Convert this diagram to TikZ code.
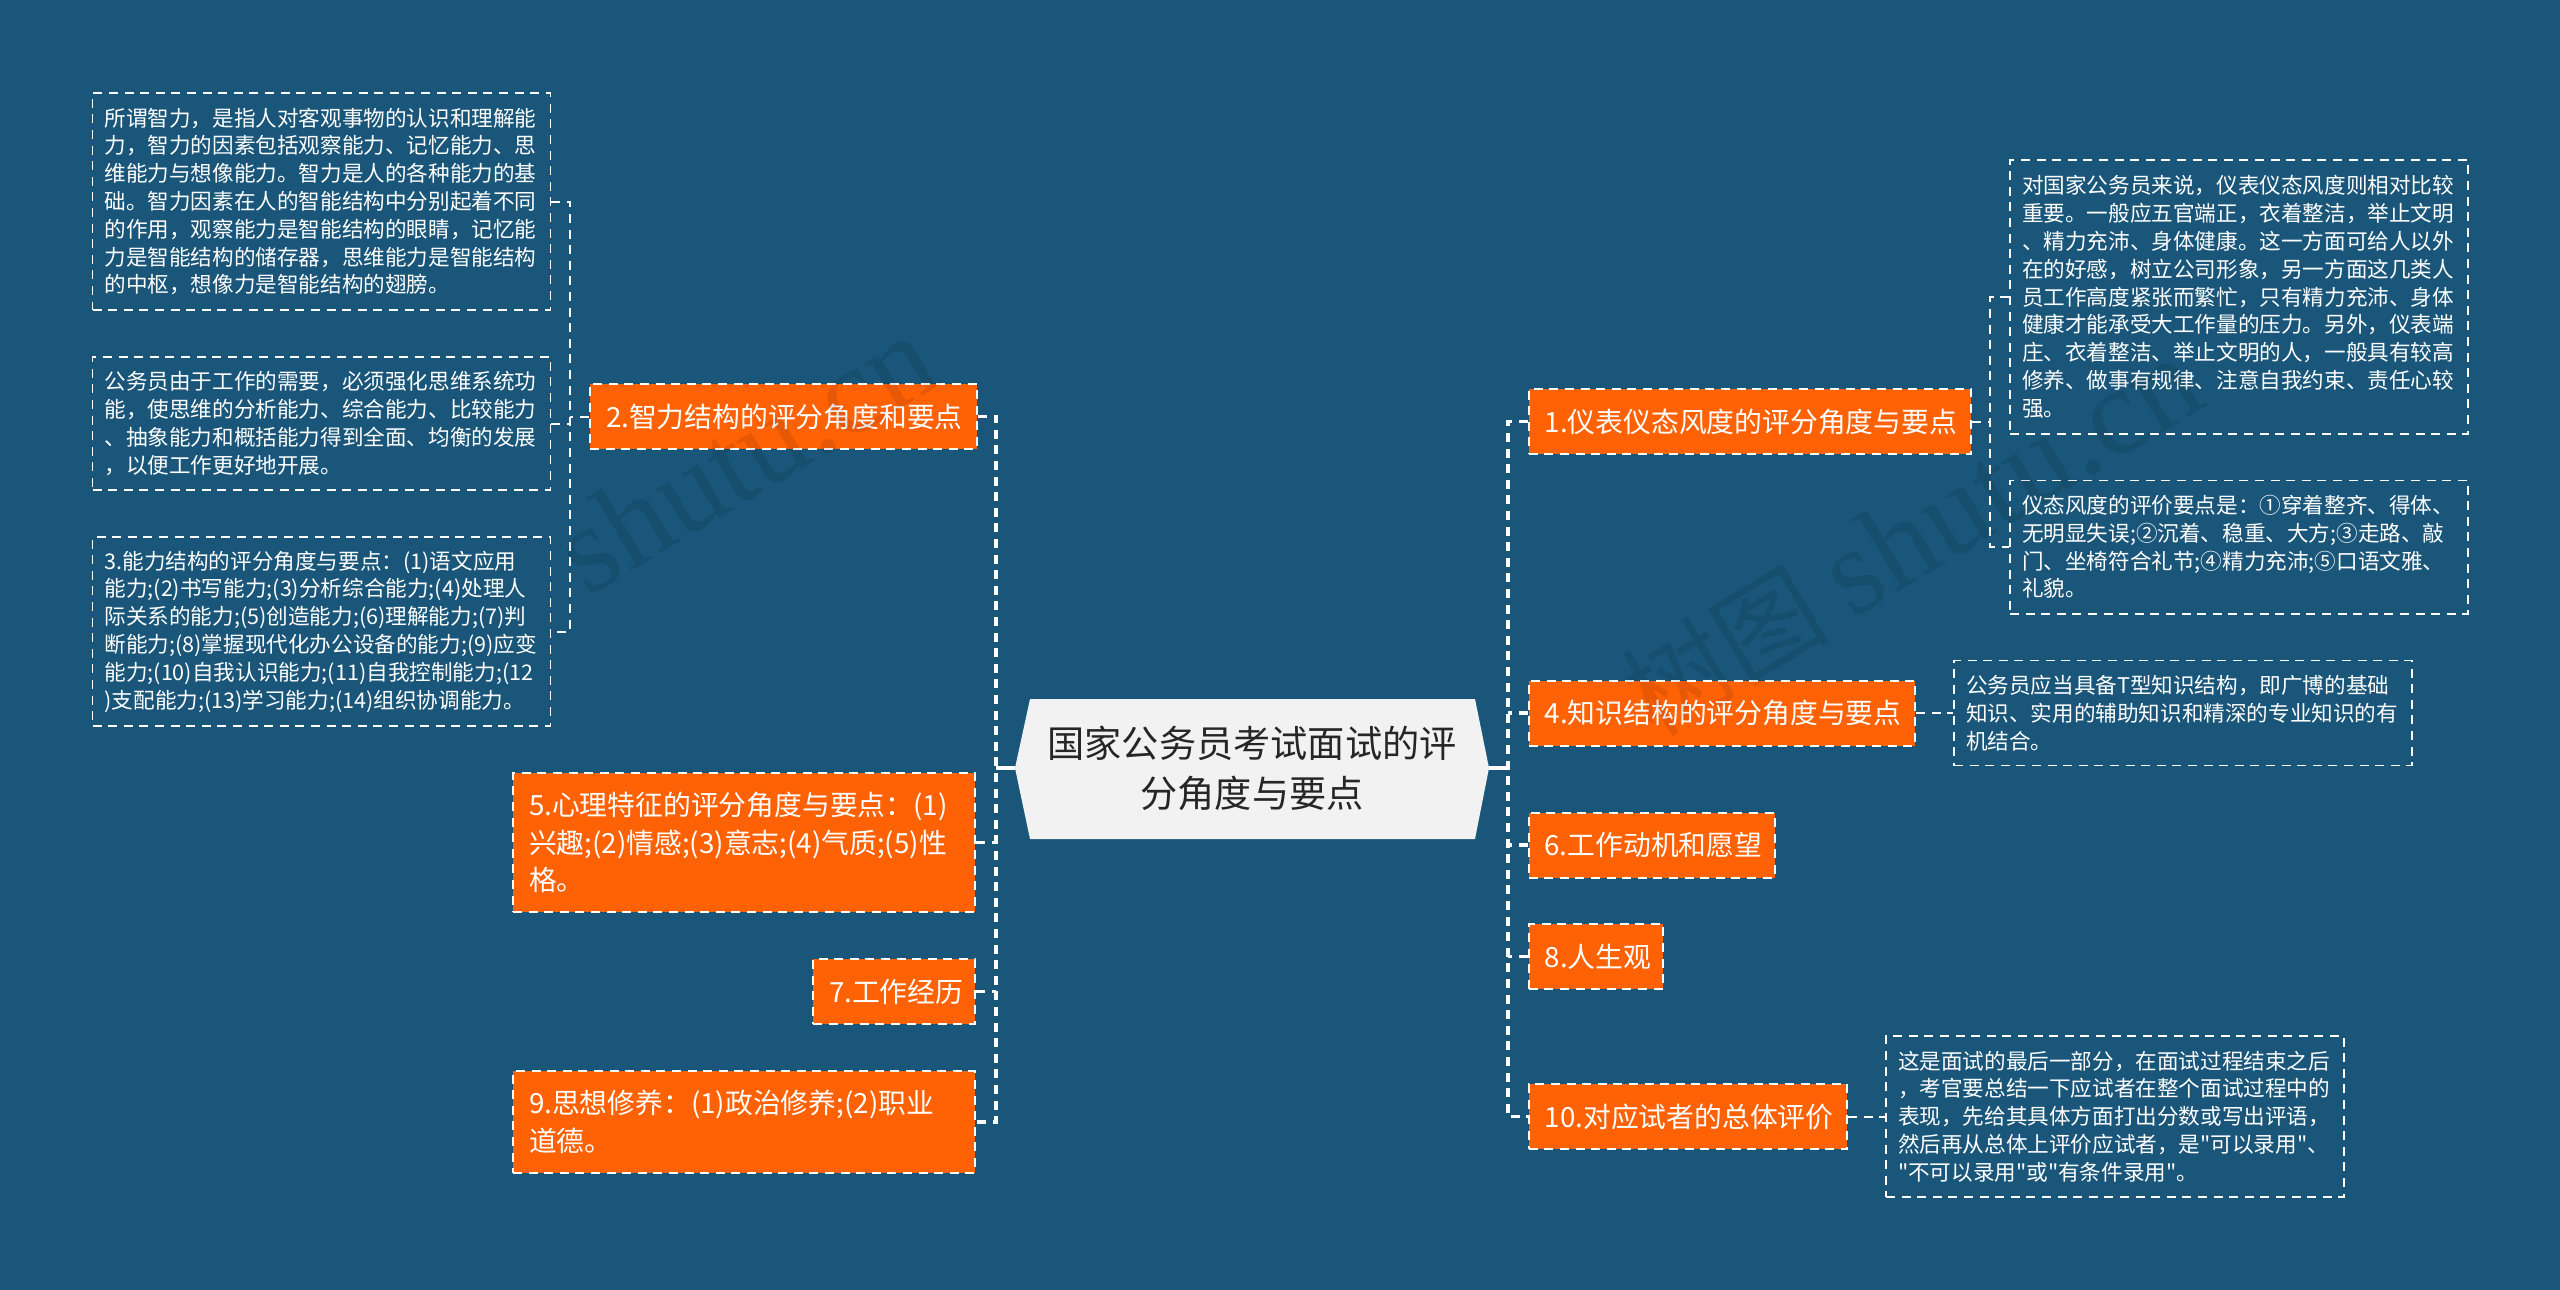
\documentclass[tikz,border=0pt]{standalone}
\usepackage{fontspec}
\newfontfamily\cnfont{Noto Sans CJK SC}
\newfontfamily\markfont{Liberation Serif}
\definecolor{pagebg}{HTML}{19567A}
\definecolor{topicfill}{HTML}{FF6105}
\definecolor{rootfill}{HTML}{F2F2F2}
\tikzset{
    topicbox/.style={draw=white,fill=topicfill,text=white,line width=1pt,dash pattern=on 4.5pt off 3.3pt,inner xsep=8pt,inner ysep=0pt,text width=#1,align=left,font=\cnfont\fontsize{13.9}{18.9}\selectfont},
    notebox/.style={draw=white,text=white,line width=0.75pt,dash pattern=on 4.5pt off 3.3pt,inner xsep=6pt,inner ysep=0pt,text width=217pt,align=left,font=\cnfont\fontsize{10.8}{13.9}\selectfont},
    rootlink/.style={draw=white,line width=1.7pt},
    trunk/.style={draw=white,line width=1.7pt,dash pattern=on 4.5pt off 3.3pt},
    twig/.style={draw=white,line width=1pt,dash pattern=on 4.5pt off 3.3pt},
    stamp/.style={black,opacity=0.09,rotate=31,anchor=west},
}
\begin{document}
\begin{tikzpicture}[x=0.5pt,y=-0.5pt]
    \useasboundingbox[fill=pagebg] (0,0) rectangle (2560,1290);
    % root
    \fill[rootfill] (1030,699) -- (1475,699) -- (1489,768) -- (1475,839) -- (1030,839) -- (1015,768) -- cycle;
    \node[font=\cnfont\fontsize{18.6}{25}\selectfont,text=black!85,align=center] (root) at (1252,768) {国家公务员考试面试的评\\分角度与要点};
    \coordinate (rootl) at (1015,768);
    \coordinate (rootr) at (1489,768);
    \coordinate (forkl) at (996,768);
    \coordinate (forkr) at (1508,768);
    % left topics
    \node[topicbox=177.5pt,minimum height=32.5pt] (t2) at (783.5,416.5) {2.智力结构的评分角度和要点};
    \node[topicbox=215pt,minimum height=69.5pt] (t5) at (744,842.5) {5.心理特征的评分角度与要点：(1)\\兴趣;(2)情感;(3)意志;(4)气质;(5)性\\格。};
    \node[topicbox=65pt,minimum height=32.5pt] (t7) at (894,991.5) {7.工作经历};
    \node[topicbox=215pt,minimum height=51pt] (t9) at (744,1122) {9.思想修养：(1)政治修养;(2)职业\\道德。};
    % right topics
    \node[topicbox=205.25pt,minimum height=32.5pt] (t1) at (1750,421.5) {1.仪表仪态风度的评分角度与要点};
    \node[topicbox=177.25pt,minimum height=32.5pt] (t4) at (1722,713) {4.知识结构的评分角度与要点};
    \node[topicbox=107pt,minimum height=32.5pt] (t6) at (1651.5,845) {6.工作动机和愿望};
    \node[topicbox=51.25pt,minimum height=32.5pt] (t8) at (1596,956.5) {8.人生观};
    \node[topicbox=143.25pt,minimum height=32.5pt] (t10) at (1688,1116.5) {10.对应试者的总体评价};
    % left notes
    \node[notebox,minimum height=108.5pt] (n2a) at (321.5,201.5) {所谓智力，是指人对客观事物的认识和理解能\\力，智力的因素包括观察能力、记忆能力、思\\维能力与想像能力。智力是人的各种能力的基\\础。智力因素在人的智能结构中分别起着不同\\的作用，观察能力是智能结构的眼睛，记忆能\\力是智能结构的储存器，思维能力是智能结构\\的中枢，想像力是智能结构的翅膀。};
    \node[notebox,minimum height=66.5pt] (n2b) at (321.5,423.5) {公务员由于工作的需要，必须强化思维系统功\\能，使思维的分析能力、综合能力、比较能力\\、抽象能力和概括能力得到全面、均衡的发展\\，以便工作更好地开展。};
    \node[notebox,minimum height=94.5pt] (n2c) at (321.5,631.5) {3.能力结构的评分角度与要点：(1)语文应用\\能力;(2)书写能力;(3)分析综合能力;(4)处理人\\际关系的能力;(5)创造能力;(6)理解能力;(7)判\\断能力;(8)掌握现代化办公设备的能力;(9)应变\\能力;(10)自我认识能力;(11)自我控制能力;(12\\)支配能力;(13)学习能力;(14)组织协调能力。};
    % right notes
    \node[notebox,minimum height=137pt] (n1a) at (2239,297) {对国家公务员来说，仪表仪态风度则相对比较\\重要。一般应五官端正，衣着整洁，举止文明\\、精力充沛、身体健康。这一方面可给人以外\\在的好感，树立公司形象，另一方面这几类人\\员工作高度紧张而繁忙，只有精力充沛、身体\\健康才能承受大工作量的压力。另外，仪表端\\庄、衣着整洁、举止文明的人，一般具有较高\\修养、做事有规律、注意自我约束、责任心较\\强。};
    \node[notebox,minimum height=66.75pt] (n1b) at (2239,547) {仪态风度的评价要点是：①穿着整齐、得体、\\无明显失误;②沉着、稳重、大方;③走路、敲\\门、坐椅符合礼节;④精力充沛;⑤口语文雅、\\礼貌。};
    \node[notebox,minimum height=52.5pt] (n4) at (2183,713) {公务员应当具备T型知识结构，即广博的基础\\知识、实用的辅助知识和精深的专业知识的有\\机结合。};
    \node[notebox,minimum height=80.5pt] (n10) at (2115,1116.5) {这是面试的最后一部分，在面试过程结束之后\\，考官要总结一下应试者在整个面试过程中的\\表现，先给其具体方面打出分数或写出评语，\\然后再从总体上评价应试者，是"可以录用"、\\"不可以录用"或"有条件录用"。};
    % connectors
    \draw[rootlink] (rootl) -- (forkl);
    \draw[rootlink] (rootr) -- (forkr);
    \draw[trunk] (t2.east) -| (forkl) |- (t9.east);
    \draw[trunk] (t5.east) -- (forkl |- t5.east);
    \draw[trunk] (t7.east) -- (forkl |- t7.east);
    \draw[trunk] (t1.west) -| (forkr) |- (t10.west);
    \draw[trunk] (t4.west) -- (forkr |- t4.west);
    \draw[trunk] (t6.west) -- (forkr |- t6.west);
    \draw[trunk] (t8.west) -- (forkr |- t8.west);
    \coordinate (fork2) at (570,416.5);
    \coordinate (fork1) at (1990,421.5);
    \draw[twig] (t2.west) -- (fork2);
    \draw[twig] (n2a.east) -| (fork2) |- (n2c.east);
    \draw[twig] (n2b.east) -- (fork2 |- n2b.east);
    \draw[twig] (t1.east) -- (fork1);
    \draw[twig] (n1a.west) -| (fork1) |- (n1b.west);
    \draw[twig] (t4.east) -- (n4.west);
    \draw[twig] (t10.east) -- (n10.west);
    % watermark
    \node[stamp,font=\fontsize{62}{62}\selectfont] (markl) at (560,565) {\markfont shutu.cn};
    \node[stamp,font=\cnfont\fontsize{52}{52}\selectfont] (markr) at (1628,708) {树图 \markfont\fontsize{62}{62}\selectfont shutu.cn};
\end{tikzpicture}
\end{document}
